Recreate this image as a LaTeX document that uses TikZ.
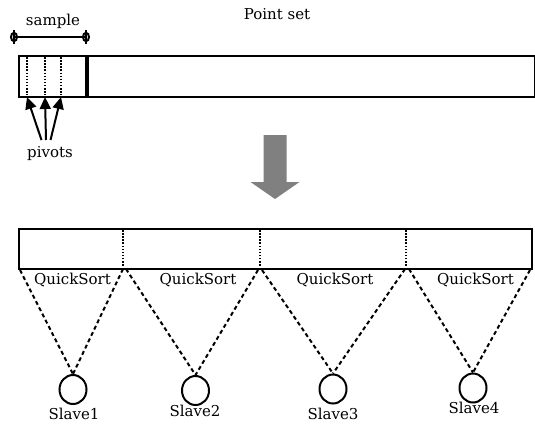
\documentclass[tikz,border=0pt]{standalone}
\usepackage{fontspec}
\setmainfont{DejaVu Serif}
\usetikzlibrary{arrows.meta}
\definecolor{arrowgray}{HTML}{808080}
\tikzset{
  bar/.style={draw, line width=2pt, inner sep=0pt, anchor=north west},
  lbl/.style={font=\fontsize{15}{17}\selectfont, inner sep=0pt},
  dotline/.style={line width=2.2pt, dash pattern=on 1.5pt off 1.6pt},
  dashline/.style={line width=2pt, dash pattern=on 4pt off 3pt},
  slave/.style={draw, line width=2pt, ellipse, minimum width=27pt, minimum height=29pt, inner sep=0pt},
  pivarrow/.style={line width=2pt, -{Triangle[length=12pt,width=11pt]}},
}
\usetikzlibrary{shapes.geometric}
\begin{document}
\begin{tikzpicture}[x=1pt,y=-1pt]
\useasboundingbox (0,0) rectangle (535,426);
% titles
\node[lbl] (ptset) at (277,14) {Point set};
\node[lbl] (samplelbl) at (53,21) {sample};
% sample bracket
\coordinate (sL) at (14,37);
\coordinate (sR) at (86,37);
\draw[line width=2pt] (sL) -- (sR);
\foreach \p in {sL,sR}{
  \draw[line width=2pt] (\p) ellipse (3pt and 4.2pt);
  \draw[line width=2pt] ([yshift=-7pt]\p) -- ([yshift=7pt]\p);
}
% top bar
\node[bar, minimum width=516pt, minimum height=41pt] (topbar) at (18,55) {};
\draw[line width=4pt] (87,55) -- (87,96);
\coordinate (p1t) at (27,57); \coordinate (p1b) at (27,95);
\coordinate (p2t) at (45,57); \coordinate (p2b) at (45,95);
\coordinate (p3t) at (61,57); \coordinate (p3b) at (61,95);
\draw[dotline] (p1t) -- (p1b);
\draw[dotline] (p2t) -- (p2b);
\draw[dotline] (p3t) -- (p3b);
% pivots
\node[lbl] (pivots) at (50,154) {pivots};
\coordinate (a1) at (41.5,140); \coordinate (a2) at (46,140); \coordinate (a3) at (50.5,140);
\draw[pivarrow] (a1) -- (27,97);
\draw[pivarrow] (a2) -- (45,97);
\draw[pivarrow] (a3) -- (61,97);
% big arrow
\fill[arrowgray] (263.5,135) -- (286.5,135) -- (286.5,182) -- (299.5,182) -- (275,199) -- (250.5,182) -- (263.5,182) -- cycle;
% bottom bar
\node[bar, minimum width=513pt, minimum height=40pt] (botbar) at (18,228) {};
\foreach \x in {123,260,406}{
  \draw[dotline] (\x,230) -- (\x,267);
}
% QuickSort labels
\node[lbl] (q1) at (72.5,280) {QuickSort};
\node[lbl] (q2) at (198,280) {QuickSort};
\node[lbl] (q3) at (335,280) {QuickSort};
\node[lbl] (q4) at (475.5,280) {QuickSort};
% slaves
\node[slave] (s1) at (73,389.5) {};
\node[slave] (s2) at (195.5,390.5) {};
\node[slave] (s3) at (333,389) {};
\node[slave] (s4) at (473,388) {};
\node[lbl] (l1) at (74,414) {Slave1};
\node[lbl] (l2) at (195,411) {Slave2};
\node[lbl] (l3) at (333,413.5) {Slave3};
\node[lbl] (l4) at (474,408) {Slave4};
% bar bottom points
\coordinate (b1) at (20,270);
\coordinate (b2) at (123,269);
\coordinate (b3) at (126,269);
\coordinate (b4) at (258,270);
\coordinate (b5) at (262,270);
\coordinate (b6) at (405,269);
\coordinate (b7) at (409,269);
\coordinate (b8) at (530,270);
\draw[dashline] (b1) -- (s1.north);
\draw[dashline] (b2) -- (s1.north);
\draw[dashline] (b3) -- (s2.north);
\draw[dashline] (b4) -- (s2.north);
\draw[dashline] (b5) -- (s3.north);
\draw[dashline] (b6) -- (s3.north);
\draw[dashline] (b7) -- (s4.north);
\draw[dashline] (b8) -- (s4.north);
\end{tikzpicture}
\end{document}
